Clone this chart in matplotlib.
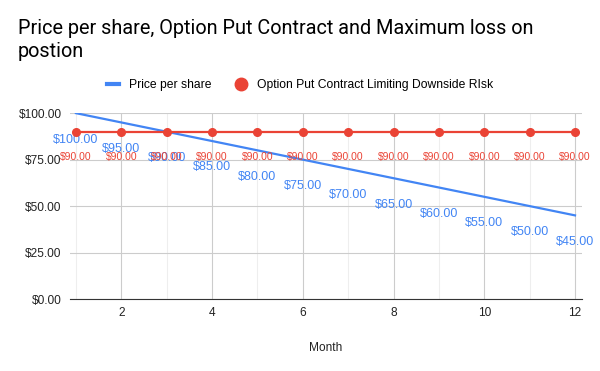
import numpy as np
import matplotlib.pyplot as plt

months = list(range(1, 13))
price = [100, 95, 90, 85, 80, 75, 70, 65, 60, 55, 50, 45]
put_floor = [90] * 12

blue = '#4285F4'
red = '#EA4335'

plt.rcParams['font.family'] = ['Liberation Sans', 'DejaVu Sans']

fig = plt.figure(figsize=(6, 3.71), dpi=100)
ax = fig.add_axes([0.1167, 0.194, 0.853, 0.501])

ax.plot(months, price, color=blue, lw=1.6, label='Price per share', zorder=3)
ax.plot(months, put_floor, color=red, lw=1.6, marker='o', markersize=5.5,
        label='Option Put Contract Limiting Downside RIsk', zorder=4)

for m, p in zip(months, price):
    ax.annotate(f'${p:.2f}', (m, p), xytext=(0, -19), textcoords='offset points',
                ha='center', va='center', color=blue, fontsize=9)
for m, v in zip(months, put_floor):
    ax.annotate(f'${v:.2f}', (m, v), xytext=(0, -18), textcoords='offset points',
                ha='center', va='center', color=red, fontsize=7.5)

ax.set_xlim(0.87, 12.15)
ax.set_ylim(0, 100)
ax.set_yticks([0, 25, 50, 75, 100])
ax.set_yticklabels([f'${v:.2f}' for v in [0, 25, 50, 75, 100]])
ax.set_xticks(range(2, 13, 2))
ax.set_xticks(range(1, 13, 2), minor=True)
ax.grid(True, which='major', color='#cccccc', lw=0.8)
ax.grid(True, which='minor', axis='x', color='#eeeeee', lw=0.8)
ax.set_axisbelow(True)
for s in ['top', 'right', 'left']:
    ax.spines[s].set_visible(False)
ax.spines['bottom'].set_color('#333333')
ax.tick_params(length=0, labelsize=8.6, colors='#222222', pad=6)
ax.tick_params(which='minor', length=0)
ax.set_xlabel('Month', fontsize=8.6, color='#222222', labelpad=16)

fig.text(0.03, 0.835, 'Price per share, Option Put Contract and Maximum loss on\npostion',
         fontsize=14.3, color='#000000', va='bottom', ha='left', linespacing=1.25,
         family=['Roboto', 'DejaVu Sans'])

leg = fig.legend(loc='center', bbox_to_anchor=(0.5, 0.77), ncol=2, frameon=False,
                 fontsize=8.7, handlelength=1.0, columnspacing=2.0, handletextpad=0.8)
leg.legend_handles[0].set_linewidth(3)
leg.legend_handles[1].set_linestyle('')
leg.legend_handles[1].set_markersize(9)

fig.savefig('out.png', dpi=100)
